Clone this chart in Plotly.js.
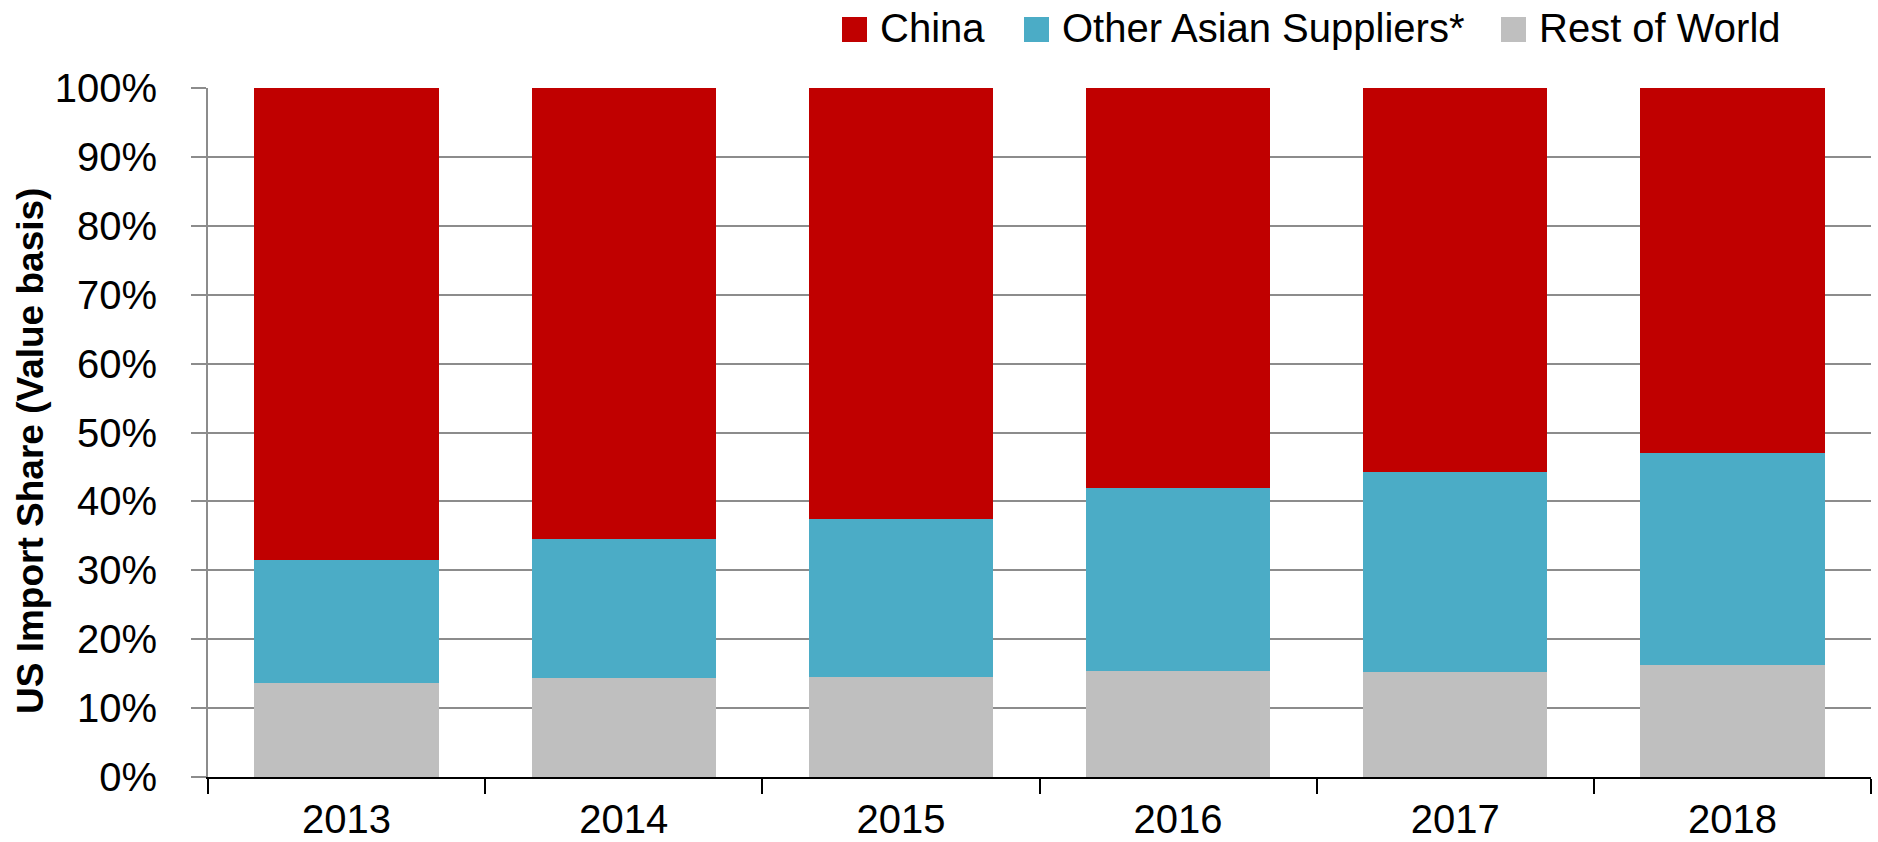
<!DOCTYPE html>
<html>
<head>
<meta charset="utf-8">
<script src="https://cdn.plot.ly/plotly-3.0.1.min.js"></script>
<style>html,body{margin:0;padding:0;background:#fff;}#chart{width:1878px;height:842px;}</style>
</head>
<body>
<div id="chart"></div>
<script>
const years = ["2013", "2014", "2015", "2016", "2017", "2018"];
const restOfWorld = [13.7, 14.3, 14.5, 15.4, 15.3, 16.3];
const otherAsian = [17.85, 20.2, 23.0, 26.5, 29.0, 30.7];
const china = [68.45, 65.5, 62.5, 58.1, 55.7, 53.0];
const seriesNames = ["Rest of World", "Other Asian Suppliers*", "China"];
const seriesColors = ["#BFBFBF", "#4BACC6", "#C00000"];
const yTickVals = [0, 10, 20, 30, 40, 50, 60, 70, 80, 90, 100];
const yTickText = ["0%", "10%", "20%", "30%", "40%", "50%", "60%", "70%", "80%", "90%", "100%"];
const yTitle = "US Import Share (Value basis)";

const FONT = "'Liberation Sans', Arial, sans-serif";
const W = 1878, H = 842;
const M = {l: 208, r: 7, t: 88, b: 65};
const PW = W - M.l - M.r, PH = H - M.t - M.b;
const px2x = p => (p - M.l) / PW;
const px2y = p => (H - M.b - p) / PH;

const values = [restOfWorld, otherAsian, china];
const traces = values.map((v, i) => ({
  type: "bar", name: seriesNames[i], x: years, y: v,
  marker: {color: seriesColors[i]}, hoverinfo: "none", showlegend: false
}));

// custom legend (drawn in legend order: China, Other Asian, Rest of World)
const legendOrder = [2, 1, 0];
const legendBoxLeft = [842, 1024, 1501];   // pixel positions of the swatches
const boxSize = 25, legendCenterY = 29.5;
const shapes = [], annotations = [];
legendOrder.forEach((si, k) => {
  const x0 = legendBoxLeft[k];
  shapes.push({
    type: "rect", xref: "paper", yref: "paper",
    x0: px2x(x0), x1: px2x(x0 + boxSize),
    y0: px2y(legendCenterY + boxSize / 2), y1: px2y(legendCenterY - boxSize / 2),
    fillcolor: seriesColors[si], line: {width: 0}
  });
  annotations.push({
    text: seriesNames[si], xref: "paper", yref: "paper",
    x: px2x(x0 + boxSize + 11), y: px2y(legendCenterY - 1),
    xanchor: "left", yanchor: "middle", showarrow: false,
    font: {family: FONT, size: 40, color: "#000"}
  });
});
annotations.push({
  text: yTitle, textangle: -90,
  xref: "paper", yref: "paper",
  x: px2x(31), y: px2y(451), xanchor: "center", yanchor: "middle",
  showarrow: false,
  font: {family: FONT, size: 37, color: "#000", weight: "bold"}
});

const layout = {
  width: W, height: H,
  margin: {l: M.l, r: M.r, t: M.t, b: M.b, autoexpand: false},
  paper_bgcolor: "#ffffff", plot_bgcolor: "#ffffff",
  barmode: "stack",
  bargap: 0.335,
  font: {family: FONT, size: 40, color: "#000"},
  showlegend: false,
  xaxis: {
    type: "category",
    tickson: "boundaries",
    ticks: "outside", ticklen: 15, tickwidth: 2, tickcolor: "#000",
    showline: true, linecolor: "#000", linewidth: 2,
    showgrid: false, zeroline: false,
    tickfont: {family: FONT, size: 40, color: "#000"},
    ticklabelstandoff: 6,
    fixedrange: true
  },
  yaxis: {
    range: [0, 100],
    tickvals: yTickVals, ticktext: yTickText,
    ticks: "outside", ticklen: 15, tickwidth: 2, tickcolor: "#8C8C8C",
    showline: true, linecolor: "#8C8C8C", linewidth: 2,
    showgrid: true, gridcolor: "#8C8C8C", gridwidth: 2,
    zeroline: false,
    tickfont: {family: FONT, size: 40, color: "#000"},
    ticklabelstandoff: 26,
    fixedrange: true
  },
  shapes: shapes,
  annotations: annotations
};

Plotly.newPlot("chart", traces, layout, {staticPlot: true, displayModeBar: false});
</script>
</body>
</html>
